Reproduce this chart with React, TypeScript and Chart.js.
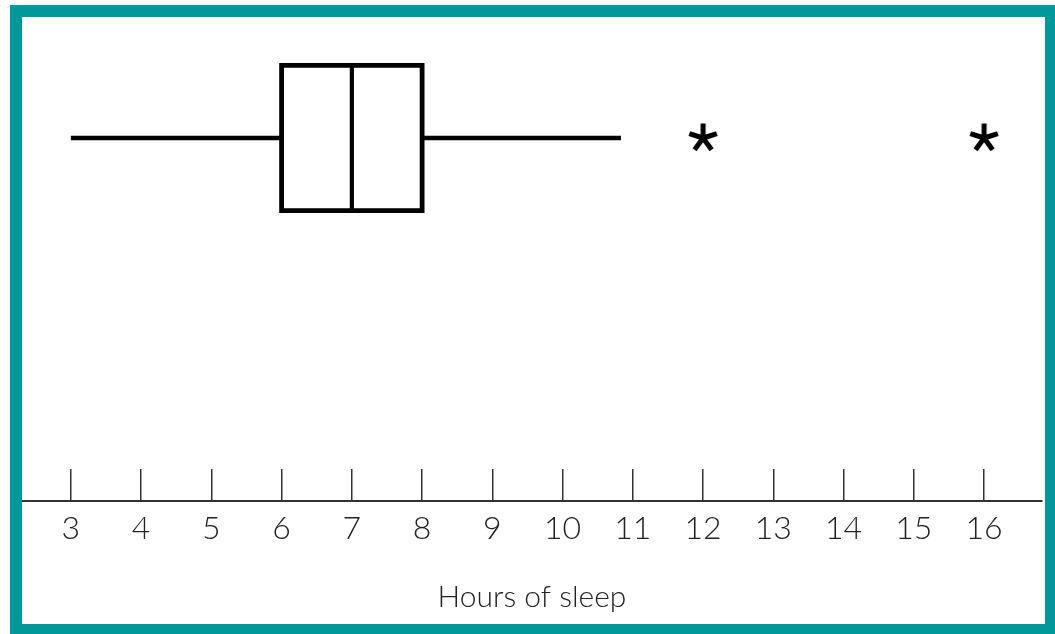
import React, { useEffect, useRef } from "react";
import { Chart, registerables } from "chart.js";

Chart.register(...registerables);

// ---- data ----
const X_TICKS = [3, 4, 5, 6, 7, 8, 9, 10, 11, 12, 13, 14, 15, 16];
const WHISKERS = [3, 10.83]; // lower / upper whisker ends
const QUARTILES = [6, 7, 8]; // Q1, median, Q3
const OUTLIERS = [12, 16];
const AXIS_TITLE = "Hours of sleep";

// ---- layout constants (not data) ----
const BOX_BOTTOM = 6;
const BOX_TOP = 9;
const BOX_MID = 7.5;
const FONT = "Lato, 'Open Sans', 'DejaVu Sans', sans-serif";
const TEAL = "#009999";

function makeAsterisk(): HTMLCanvasElement {
  const c = document.createElement("canvas");
  c.width = 40;
  c.height = 40;
  const g = c.getContext("2d")!;
  g.strokeStyle = "#000";
  g.lineWidth = 5;
  g.lineCap = "butt";
  const cx = 20;
  const cy = 20;
  const len = 14.5;
  for (let i = 0; i < 5; i++) {
    const a = -Math.PI / 2 + (i * 2 * Math.PI) / 5;
    g.beginPath();
    g.moveTo(cx, cy);
    g.lineTo(cx + len * Math.cos(a), cy + len * Math.sin(a));
    g.stroke();
  }
  g.beginPath();
  g.arc(cx, cy, 3.5, 0, Math.PI * 2);
  g.fillStyle = "#000";
  g.fill();
  return c;
}

export default function App() {
  const ref = useRef<HTMLCanvasElement | null>(null);

  useEffect(() => {
    if (!ref.current) return;
    const [q1, med, q3] = QUARTILES;
    const [lo, hi] = WHISKERS;
    const star = makeAsterisk();
    const lineDs = (data: { x: number; y: number }[], width: number) => ({
      type: "scatter" as const,
      data,
      showLine: true,
      borderColor: "#000",
      borderWidth: width,
      pointRadius: 0,
      borderJoinStyle: "miter" as const,
      borderCapStyle: "butt" as const,
      tension: 0,
    });
    const chart = new Chart(ref.current, {
      type: "scatter",
      data: {
        datasets: [
          lineDs(
            [
              { x: lo, y: BOX_MID },
              { x: q1, y: BOX_MID },
            ],
            4.5
          ),
          lineDs(
            [
              { x: q3, y: BOX_MID },
              { x: hi, y: BOX_MID },
            ],
            4.5
          ),
          lineDs(
            [
              { x: q1, y: BOX_TOP },
              { x: q3, y: BOX_TOP },
              { x: q3, y: BOX_BOTTOM },
              { x: q1, y: BOX_BOTTOM },
              { x: q1, y: BOX_TOP },
              { x: q3, y: BOX_TOP },
            ],
            4.8
          ),
          lineDs(
            [
              { x: med, y: BOX_TOP },
              { x: med, y: BOX_BOTTOM },
            ],
            4.2
          ),
          {
            type: "scatter" as const,
            data: OUTLIERS.map((v) => ({ x: v, y: BOX_MID })),
            pointStyle: star,
            pointRadius: 12,
            showLine: false,
          },
        ],
      },
      options: {
        responsive: false,
        animation: false,
        events: [],
        layout: { padding: { left: 22, right: 7, top: 17, bottom: 0 } },
        plugins: { legend: { display: false }, tooltip: { enabled: false } },
        scales: {
          x: {
            type: "linear",
            position: "bottom",
            min: 2.3046,
            max: 16.824,
            afterBuildTicks: (scale: any) => {
              scale.ticks = X_TICKS.map((v) => ({ value: v }));
            },
            afterFit: (scale: any) => {
              scale.height = 133;
            },
            grid: {
              drawOnChartArea: false,
              drawTicks: true,
              tickLength: -32,
              color: "#333",
              lineWidth: 1.5,
            },
            border: { display: true, color: "#333", width: 2 },
            ticks: {
              autoSkip: false,
              maxRotation: 0,
              padding: 40,
              color: "#222",
              font: { family: FONT, size: 32, weight: "300" as any },
              callback: (v: any) => String(v),
            },
            title: {
              display: true,
              text: AXIS_TITLE,
              color: "#222",
              font: { family: FONT, size: 30, weight: "300" as any },
              padding: { top: 0, bottom: 19 },
            },
          },
          y: {
            type: "linear",
            display: false,
            min: 0,
            max: 10,
          },
        },
      },
    });
    return () => chart.destroy();
  }, []);

  return (
    <div>
      <canvas
        ref={ref}
        width={1055}
        height={634}
        style={{ position: "fixed", left: 0, top: 0, width: 1055, height: 634, background: "#fff" }}
      />
      <div
        style={{
          position: "fixed",
          left: 10,
          top: 5,
          width: 1047,
          height: 631,
          boxSizing: "border-box",
          border: `12px solid ${TEAL}`,
          pointerEvents: "none",
        }}
      />
    </div>
  );
}
